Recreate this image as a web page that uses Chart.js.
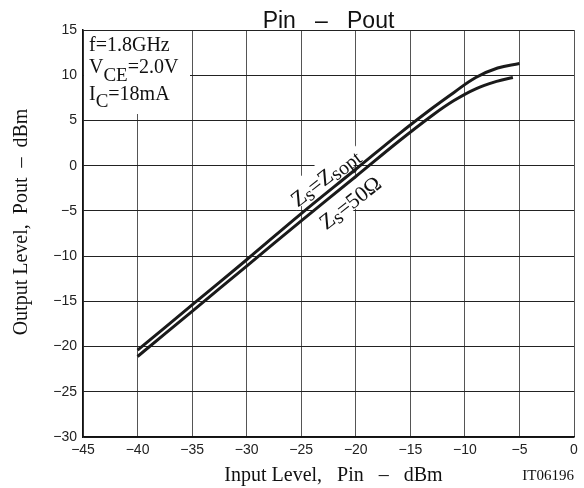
<!DOCTYPE html>
<html>
<head>
<meta charset="utf-8">
<script src="https://cdn.jsdelivr.net/npm/chart.js@4"></script>
<style>
  html, body { margin: 0; padding: 0; background: #fff; }
</style>
</head>
<body>
<canvas id="c" width="584" height="488"></canvas>
<script>
// values
const inputOpt = [-40, -35, -30, -25, -20, -16, -13, -11, -9, -7, -5];
const outputOpt = [-20.4, -15.4, -10.4, -5.3, -0.4, 3.55, 6.35, 8.1, 9.75, 10.8, 11.3];
const input50 = [-40, -35, -30, -25, -20, -16, -13, -11, -9, -7, -5.6];
const output50 = [-21.1, -16.1, -11.1, -6.1, -1.2, 2.75, 5.55, 7.2, 8.5, 9.35, 9.75];
const xRange = [-45, 0];
const yRange = [-30, 15];
const tickStep = 5;

const SERIF = '"Liberation Serif", "Times New Roman", serif';
const SANS = '"Liberation Sans", Arial, sans-serif';
const minus = v => String(v).replace('-', '\u2212');

const toPoints = (xs, ys) => xs.map((x, i) => ({ x: x, y: ys[i] }));

// draws a run of text pieces, some of them as subscripts
function drawRich(ctx, parts, x, y, size, subSize, drop, align) {
  const widths = parts.map(p => {
    ctx.font = (p.sub ? subSize : size) + 'px ' + SERIF;
    return ctx.measureText(p.t).width;
  });
  const total = widths.reduce((a, b) => a + b, 0);
  let cx = align === 'center' ? x - total / 2 : x;
  parts.forEach((p, i) => {
    ctx.font = (p.sub ? subSize : size) + 'px ' + SERIF;
    ctx.fillText(p.t, cx, y + (p.sub ? drop : 0));
    cx += widths[i];
  });
  return total;
}

function richWidth(ctx, parts, size, subSize) {
  let w = 0;
  parts.forEach(p => {
    ctx.font = (p.sub ? subSize : size) + 'px ' + SERIF;
    w += ctx.measureText(p.t).width;
  });
  return w;
}

const textPlugin = {
  id: 'texts',
  beforeDatasetsDraw(chart) {
    const { ctx, chartArea: a, scales } = chart;
    ctx.save();
    // white box behind the condition text
    ctx.fillStyle = '#fff';
    ctx.fillRect(a.left + 1, a.top + 1, 106, 83);
    ctx.fillStyle = '#111';
    ctx.textBaseline = 'alphabetic';
    ctx.textAlign = 'left';
    drawRich(ctx, [{ t: 'f=1.8GHz' }], a.left + 6, 50.5, 20, 19, 8);
    drawRich(ctx, [{ t: 'V' }, { t: 'CE', sub: true }, { t: '=2.0V' }], a.left + 6, 72.5, 20, 19, 8);
    drawRich(ctx, [{ t: 'I' }, { t: 'C', sub: true }, { t: '=18mA' }], a.left + 6, 100, 20, 19, 7);

    // curve labels, rotated along the lines
    const labels = [
      { parts: [{ t: 'Z' }, { t: 's', sub: true }, { t: '=Z' }, { t: 'sopt', sub: true }], x: -22.8, y: -1.3 },
      { parts: [{ t: 'Z' }, { t: 's', sub: true }, { t: '=50\u03a9' }], x: -20.5, y: -4.1 }
    ];
    labels.forEach(l => {
      const px = scales.x.getPixelForValue(l.x);
      const py = scales.y.getPixelForValue(l.y);
      ctx.save();
      ctx.translate(px, py);
      ctx.rotate(-38 * Math.PI / 180);
      ctx.textAlign = 'left';
      const w = richWidth(ctx, l.parts, 22, 20);
      ctx.fillStyle = '#fff';
      ctx.fillRect(-w / 2 - 3, -16, w + 6, 24);
      ctx.fillStyle = '#111';
      drawRich(ctx, l.parts, 0, 7, 22, 20, 3, 'center');
      ctx.restore();
    });
    ctx.restore();
  },
  afterDraw(chart) {
    const { ctx, chartArea: a } = chart;
    const cx = (a.left + a.right) / 2;
    ctx.save();
    ctx.fillStyle = '#111';
    ctx.textAlign = 'center';
    ctx.textBaseline = 'alphabetic';
    ctx.font = '23px ' + SANS;
    ctx.fillText('Pin   \u2013   Pout', cx, 28);
    ctx.font = '20px ' + SERIF;
    ctx.fillText('Input Level,   Pin   \u2013   dBm', cx + 5, 481);
    ctx.textAlign = 'right';
    ctx.font = '15px ' + SERIF;
    ctx.fillText('IT06196', a.right, 480);
    ctx.translate(27, 222);
    ctx.rotate(-Math.PI / 2);
    ctx.textAlign = 'center';
    ctx.font = '20px ' + SERIF;
    ctx.fillText('Output Level,  Pout  \u2013  dBm', 0, 0);
    ctx.restore();
  }
};

new Chart(document.getElementById('c'), {
  type: 'line',
  data: {
    datasets: [
      {
        label: 'Zs=Zsopt',
        data: toPoints(inputOpt, outputOpt),
        borderColor: '#1a1a1a',
        borderWidth: 3,
        pointRadius: 0,
        tension: 0.4
      },
      {
        label: 'Zs=50\u03a9',
        data: toPoints(input50, output50),
        borderColor: '#1a1a1a',
        borderWidth: 3,
        pointRadius: 0,
        tension: 0.4
      }
    ]
  },
  options: {
    responsive: false,
    animation: false,
    devicePixelRatio: 1,
    layout: { padding: { top: 30, right: 10, left: 0, bottom: 0 } },
    plugins: { legend: { display: false }, tooltip: { enabled: false }, title: { display: false } },
    scales: {
      x: {
        type: 'linear',
        min: xRange[0],
        max: xRange[1],
        afterFit: s => { s.height = 51; },
        ticks: { stepSize: tickStep, padding: 5, color: '#222', font: { family: SANS, size: 14 }, callback: minus, maxRotation: 0 },
        grid: { color: '#555', lineWidth: 1, drawTicks: false },
        border: { color: '#111', width: 1.5 }
      },
      y: {
        min: yRange[0],
        max: yRange[1],
        afterFit: s => { s.width = 83; },
        ticks: { stepSize: tickStep, padding: 6, color: '#222', font: { family: SANS, size: 14 }, callback: minus },
        grid: { color: '#222', lineWidth: 1, drawTicks: false },
        border: { color: '#111', width: 1.5 }
      }
    }
  },
  plugins: [textPlugin]
});
</script>
</body>
</html>
